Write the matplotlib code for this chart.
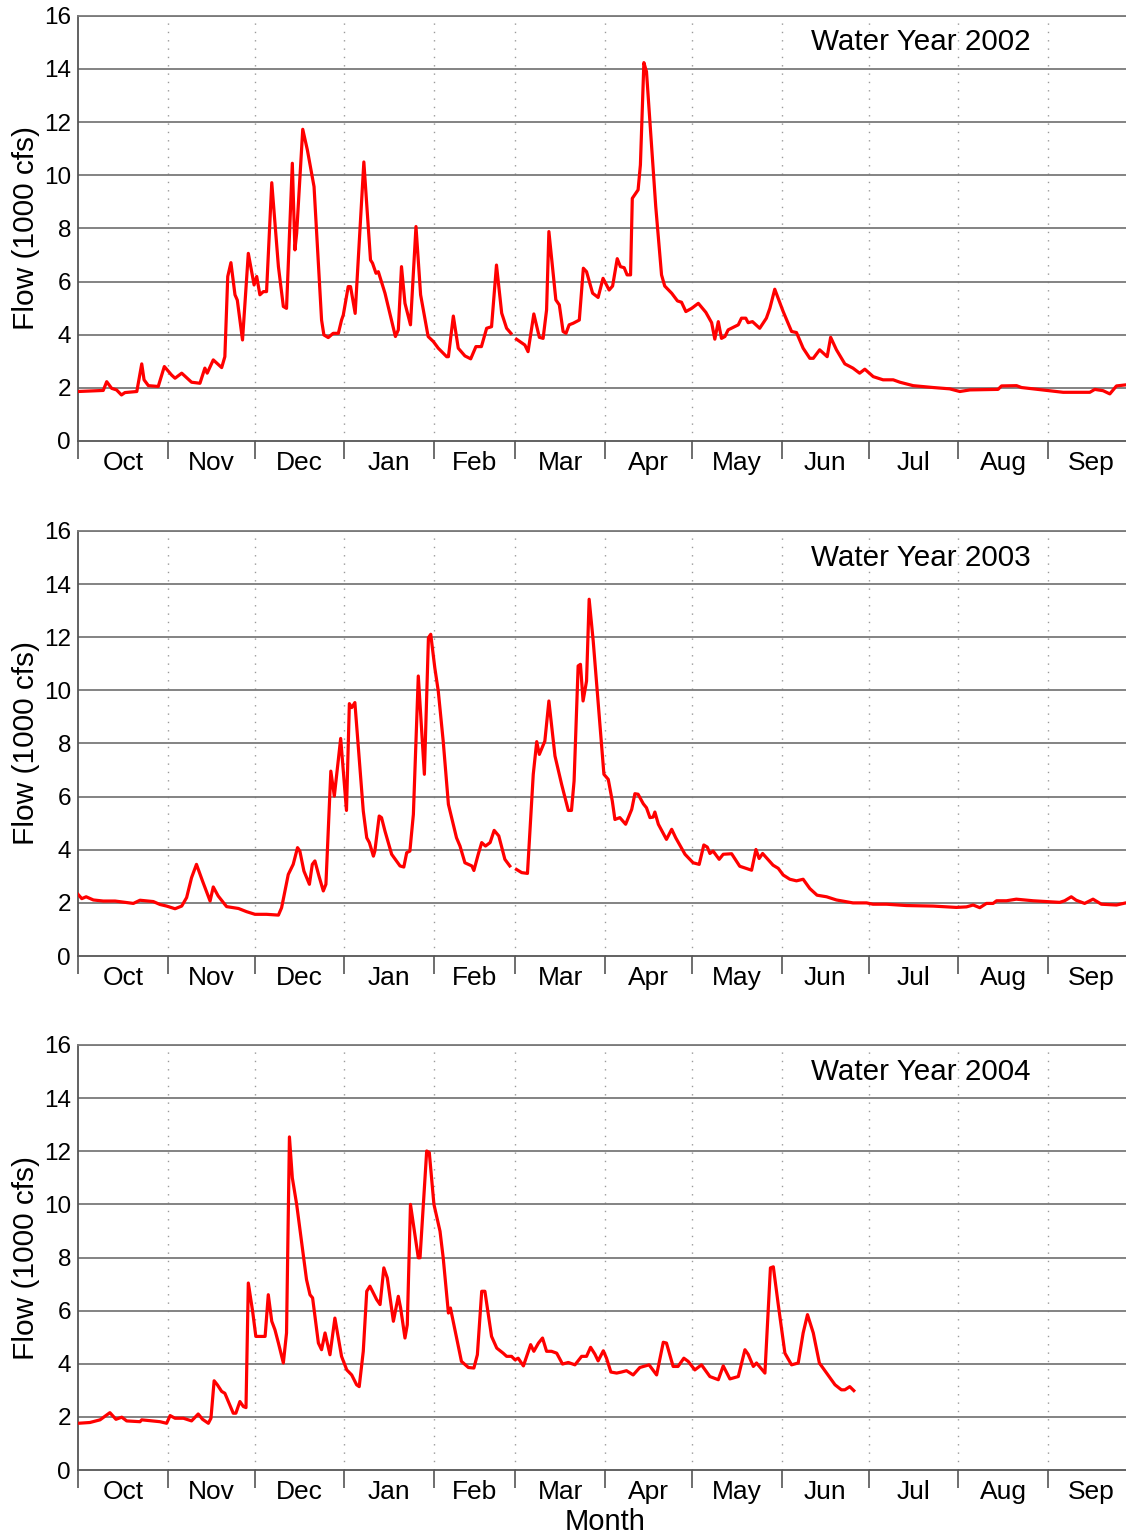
import numpy as np
import matplotlib
matplotlib.use("Agg")
import matplotlib.pyplot as plt

plt.rcParams['font.family'] = ['Liberation Sans', 'DejaVu Sans']

# month boundaries in days since Oct 1 and month names
month_edges = [0, 31, 61, 92, 123, 151, 182, 212, 243, 273, 304, 335, 365]
month_names = ['Oct', 'Nov', 'Dec', 'Jan', 'Feb', 'Mar', 'Apr', 'May', 'Jun', 'Jul', 'Aug', 'Sep']

# Water Year 2002 (day of water year, flow in 1000 cfs); nan marks the missing gap
days_2002 = [0, 8.7, 9.9, 11.6, 13.3, 15, 16.2, 20.3, 22, 22.8, 24.3, 27.7, 29.8, 32.3, 33.5,
             35.8, 39.2, 42.1, 43.8, 44.6, 46.7, 49.6, 50.7, 51.7, 52.8, 54.2, 55, 56.8, 58.8,
             60.8, 61.7, 62.8, 64, 65.1, 66.9, 69.2, 70.9, 72, 74, 74.9, 75.5, 77.6, 79.2, 81.5,
             84.1, 84.9, 86.4, 88.1, 89.9, 91, 91.6, 93.3, 94.1, 95.7, 98.7, 101, 101.7, 102.9,
             103.7, 106, 109.6, 110.6, 111.7, 112.9, 114.8, 116.7, 118.3, 120.9, 122.7, 124.4,
             127.3, 127.9, 129.6, 131.3, 133.6, 135.6, 137.4, 139.3, 141.1, 142.8, 144.5, 146.3,
             148, 149.5, 150.5, 151.4, 154.3, 155.4, 157.4, 159.3, 160.6, 161.8, 162.6, 165,
             166.2, 167.5, 168.5, 169.6, 171, 173.1, 174.5, 175.6, 177.7, 179.6, 181.3, 183.4,
             184.6, 186.2, 187.3, 188.6, 189.6, 190.8, 191.4, 193.4, 194.2, 195.4, 196.3, 199.5,
             201.5, 202.6, 205, 207, 208.4, 209.9, 211.9, 214.2, 216.8, 218.8, 219.9, 221.1,
             222.2, 223.4, 224.5, 228, 229.1, 230.6, 231.4, 232.9, 235.4, 237.7, 238.9, 240.6,
             243.5, 246.4, 248.1, 250.4, 252.7, 253.9, 256.1, 258.7, 259.9, 261.9, 264.8, 267.6,
             269.9, 271.7, 274.6, 278, 281.5, 283.8, 288.4, 295.3, 301, 304.5, 308, 317.7, 318.9,
             324.1, 325.8, 335.5, 340.2, 349.4, 351.1, 354, 356.3, 358.6, 361.8, 365]
flow_2002 = [1.86, 1.9, 2.23, 1.98, 1.92, 1.73, 1.82, 1.86, 2.9, 2.3, 2.08, 2.05, 2.8, 2.48, 2.36,
             2.55, 2.21, 2.17, 2.74, 2.55, 3.05, 2.76, 3.17, 6.19, 6.71, 5.5, 5.3, 3.8, 7.06,
             5.87, 6.19, 5.5, 5.62, 5.62, 9.72, 6.56, 5.06, 4.99, 10.45, 7.19, 7.82, 11.73, 10.95,
             9.57, 4.55, 3.99, 3.89, 4.05, 4.05, 4.55, 4.74, 5.81, 5.81, 4.8, 10.5, 6.81, 6.69,
             6.31, 6.37, 5.56, 3.93, 4.18, 6.56, 5.18, 4.37, 8.07, 5.5, 3.93, 3.74, 3.49, 3.17,
             3.17, 4.7, 3.49, 3.2, 3.09, 3.55, 3.55, 4.24, 4.3, 6.62, 4.81, 4.24, 4.05, np.nan,
             3.83, 3.61, 3.36, 4.78, 3.9, 3.86, 4.93, 7.88, 5.31, 5.12, 4.12, 4.05, 4.37, 4.43,
             4.55, 6.5, 6.37, 5.56, 5.4, 6.12, 5.68, 5.83, 6.86, 6.56, 6.52, 6.25, 6.25, 9.13,
             9.45, 10.39, 14.24, 13.9, 8.82, 6.25, 5.83, 5.56, 5.27, 5.22, 4.87, 4.99, 5.18, 4.84,
             4.45, 3.83, 4.49, 3.86, 3.93, 4.18, 4.37, 4.62, 4.62, 4.45, 4.49, 4.24, 4.62, 4.99,
             5.71, 4.87, 4.12, 4.08, 3.49, 3.11, 3.11, 3.43, 3.17, 3.9, 3.43, 2.9, 2.74, 2.55,
             2.7, 2.42, 2.3, 2.3, 2.21, 2.08, 2.01, 1.96, 1.86, 1.92, 1.94, 2.07, 2.08, 2.01,
             1.89, 1.83, 1.83, 1.94, 1.89, 1.77, 2.07, 2.11, 2.1]

# Water Year 2003
days_2003 = [0, 1.3, 2.8, 5.3, 8.7, 12.8, 19.1, 21.4, 26, 28.3, 30.6, 33.5, 35.8, 37.5, 39.2,
             40.9, 43, 45.6, 46.7, 48.4, 51.3, 55.4, 58.2, 61.1, 65.1, 69.2, 70.3, 72.6, 74.3,
             75.8, 76.6, 78, 79.9, 80.9, 81.8, 83.2, 84.7, 85.6, 87.3, 88.5, 90.7, 92.7, 93.7,
             94.5, 95.6, 98.5, 99.7, 100.6, 102, 102.5, 104, 104.8, 106, 108.3, 111.2, 112.5,
             113.5, 114.6, 115.8, 117.5, 119.6, 121, 121.8, 123.2, 124.4, 126.1, 127.9, 130.7,
             131.9, 133.6, 136, 136.7, 138.2, 139.4, 140.7, 142.3, 143.7, 145.3, 147.4, 149.1,
             150.2, 151.4, 153.2, 155.2, 157.2, 158.4, 159.3, 161.2, 162.6, 164.7, 167, 169.3,
             170.4, 171.3, 172.7, 173.5, 174.4, 175.6, 176.5, 177.9, 180.2, 181.6, 183.1, 184.5,
             185.4, 187.1, 189.1, 191.2, 192.3, 193.4, 195.2, 196.3, 197.5, 198.6, 199.2, 200.4,
             203.2, 205, 206.4, 209.6, 212.4, 214.5, 216.1, 217.3, 218.2, 219.3, 221.4, 222.8,
             225.7, 228.5, 232.6, 234.1, 235.2, 236.4, 240, 241.8, 243.5, 245.8, 248.1, 250.4,
             252.7, 255.2, 258.5, 261.9, 267.6, 272.3, 274.5, 279.2, 286.1, 295.3, 303.3, 306.8,
             309.1, 311.4, 313.7, 316, 317.2, 320.6, 324, 329.8, 339, 340.7, 343, 344.7, 347.6,
             350.5, 353.4, 358.6, 361.8, 365]
flow_2003 = [2.32, 2.16, 2.23, 2.11, 2.07, 2.07, 1.98, 2.1, 2.05, 1.94, 1.88, 1.78, 1.88, 2.2, 2.95,
             3.45, 2.82, 2.07, 2.6, 2.26, 1.86, 1.79, 1.67, 1.57, 1.57, 1.54, 1.82, 3.07, 3.45,
             4.08, 3.95, 3.2, 2.7, 3.45, 3.58, 3.01, 2.45, 2.7, 6.96, 6.02, 8.19, 5.48, 9.5, 9.35,
             9.54, 5.46, 4.45, 4.27, 3.76, 3.95, 5.27, 5.21, 4.7, 3.83, 3.39, 3.35, 3.89, 3.95,
             5.33, 10.54, 6.84, 11.98, 12.11, 10.85, 9.97, 8.09, 5.71, 4.45, 4.14, 3.51, 3.39,
             3.22, 3.83, 4.27, 4.14, 4.27, 4.73, 4.52, 3.64, 3.39, np.nan, 3.26, 3.14, 3.11,
             6.84, 8.07, 7.59, 8.09, 9.6, 7.53, 6.46, 5.48, 5.48, 6.59, 10.92, 10.98, 9.6, 10.35,
             13.43, 11.86, 8.72, 6.84, 6.65, 5.83, 5.14, 5.21, 4.96, 5.52, 6.11, 6.09, 5.73,
             5.58, 5.21, 5.23, 5.42, 4.96, 4.39, 4.77, 4.45, 3.83, 3.51, 3.45, 4.18, 4.1, 3.86,
             3.95, 3.64, 3.83, 3.85, 3.38, 3.23, 4.01, 3.67, 3.86, 3.42, 3.3, 3.05, 2.89, 2.83,
             2.89, 2.54, 2.29, 2.23, 2.11, 2.0, 2.0, 1.95, 1.95, 1.9, 1.88, 1.83, 1.85, 1.92,
             1.82, 1.98, 1.98, 2.08, 2.08, 2.14, 2.08, 2.02, 2.08, 2.23, 2.1, 1.98, 2.14, 1.95,
             1.92, 2.0, 1.95]

# Water Year 2004 (record ends in late June)
days_2004 = [0, 4.1, 7.6, 11, 13.1, 15.1, 16.8, 21.4, 22, 28.3, 30.6, 31.8, 33.5, 36.4, 39.2,
             41.5, 43, 45, 45.9, 47, 48.1, 49.6, 50.7, 53.6, 54.5, 55.9, 57.1, 58, 58.8, 60.3,
             61.4, 64.6, 65.7, 66.9, 68, 69.2, 70.9, 72, 73, 74, 75.5, 78.9, 80.1, 81, 83, 84.1,
             85.3, 87, 88.7, 91, 92.8, 94.5, 96.2, 97.1, 98.5, 99.7, 100.8, 103.1, 104.3, 105.6,
             106.8, 108.9, 110.6, 111.4, 112.9, 113.7, 114.8, 115.8, 117.5, 118.1, 120.4, 121.3,
             122.9, 125, 126.1, 127.9, 128.6, 130.5, 132.4, 134.8, 136.7, 137.9, 139.4, 140.5,
             142.8, 144.6, 146.8, 148, 149.7, 150.9, 152, 153.8, 156.3, 157.4, 159, 160.4, 161.8,
             163.5, 165.3, 167.3, 169.3, 171.6, 173.9, 175.6, 177, 178.5, 179.6, 181.4, 182.5,
             184, 186, 187.7, 189.4, 191.7, 194, 197.2, 199.8, 202.1, 203.2, 205.5, 207.2, 209.2,
             210.7, 213, 215.3, 218.2, 221.1, 222.8, 225.1, 228, 230.3, 231.4, 233.2, 234.3,
             237.2, 239.1, 240.1, 241.8, 244.1, 246.4, 248.7, 250.4, 251.9, 253.9, 256, 258.5,
             261.4, 263.6, 264.8, 266.5, 267.9]
flow_2004 = [1.76, 1.79, 1.89, 2.16, 1.91, 1.99, 1.85, 1.82, 1.89, 1.82, 1.76, 2.05, 1.95, 1.95, 1.85,
             2.11, 1.91, 1.76, 1.95, 3.36, 3.21, 2.96, 2.89, 2.14, 2.14, 2.58, 2.39, 2.35, 7.04,
             5.97, 5.03, 5.03, 6.6, 5.6, 5.28, 4.78, 4.03, 5.16, 12.54, 11.0, 10.0, 7.17, 6.6,
             6.48, 4.78, 4.53, 5.16, 4.34, 5.72, 4.28, 3.77, 3.58, 3.21, 3.14, 4.47, 6.73, 6.92,
             6.42, 6.23, 7.61, 7.23, 5.6, 6.54, 6.1, 4.97, 5.47, 10.0, 9.25, 7.99, 7.99, 12.01,
             11.95, 10.0, 8.99, 7.99, 5.91, 6.1, 5.09, 4.09, 3.86, 3.84, 4.34, 6.73, 6.73, 5.03,
             4.59, 4.4, 4.28, 4.28, 4.15, 4.21, 3.92, 4.72, 4.47, 4.78, 4.97, 4.47, 4.47, 4.4,
             3.99, 4.05, 3.96, 4.28, 4.28, 4.62, 4.36, 4.11, 4.49, 4.21, 3.69, 3.65, 3.69, 3.74,
             3.58, 3.86, 3.96, 3.58, 4.81, 4.78, 3.9, 3.9, 4.21, 4.09, 3.77, 3.96, 3.52, 3.4,
             3.92, 3.43, 3.52, 4.53, 4.36, 3.9, 4.03, 3.65, 7.61, 7.65, 6.23, 4.4, 3.96, 4.03,
             5.16, 5.85, 5.16, 4.03, 3.65, 3.21, 3.02, 3.02, 3.14, 2.99]

panels = [(days_2002, flow_2002, 'Water Year 2002'),
          (days_2003, flow_2003, 'Water Year 2003'),
          (days_2004, flow_2004, 'Water Year 2004')]

fig = plt.figure(figsize=(11.26, 15.39), dpi=100)
bottoms = [0.7135, 0.3788, 0.0448]
month_mid = [(month_edges[i] + month_edges[i + 1]) / 2 for i in range(12)]

for (days, flow, title), bottom in zip(panels, bottoms):
    ax = fig.add_axes([0.0693, bottom, 0.9387, 0.2762])
    ax.set_xlim(0, 365)
    ax.set_ylim(0, 16)

    # month boundaries: dotted verticals
    for d in month_edges[1:-1]:
        ax.axvline(d, color='#9a9a9a', linestyle=(0, (1, 5)), linewidth=1.0, zorder=1)
    # horizontal grid
    for v in range(2, 17, 2):
        ax.axhline(v, color='#7a7a7a', linewidth=1.3, zorder=1)

    ax.plot(days, flow, color='#ff0000', linewidth=2.3, zorder=3)

    ax.set_yticks(range(0, 17, 2))
    ax.tick_params(axis='y', length=0, pad=5, labelsize=17.5)
    ax.set_xticks(month_edges)
    ax.set_xticklabels([])
    ax.set_xticks(month_mid, minor=True)
    ax.set_xticklabels(month_names, minor=True)
    ax.tick_params(axis='x', which='major', direction='out', length=13, width=1.2, color='#555555')
    ax.tick_params(axis='x', which='minor', length=0, pad=7.5, labelsize=19)

    for s in ['left', 'bottom']:
        ax.spines[s].set_color('#555555')
        ax.spines[s].set_linewidth(1.3)
    ax.spines['top'].set_color('#7a7a7a')
    ax.spines['top'].set_linewidth(1.3)
    ax.spines['right'].set_visible(False)

    ax.set_ylabel('Flow (1000 cfs)', fontsize=21.5, labelpad=3)
    ax.text(0.797, 0.9375, title, transform=ax.transAxes, ha='center', va='center', fontsize=21.3)

fig.text(605 / 1126, 1 - 1522 / 1539, 'Month', ha='center', va='center', fontsize=21)

fig.savefig('out.png', dpi=100)
